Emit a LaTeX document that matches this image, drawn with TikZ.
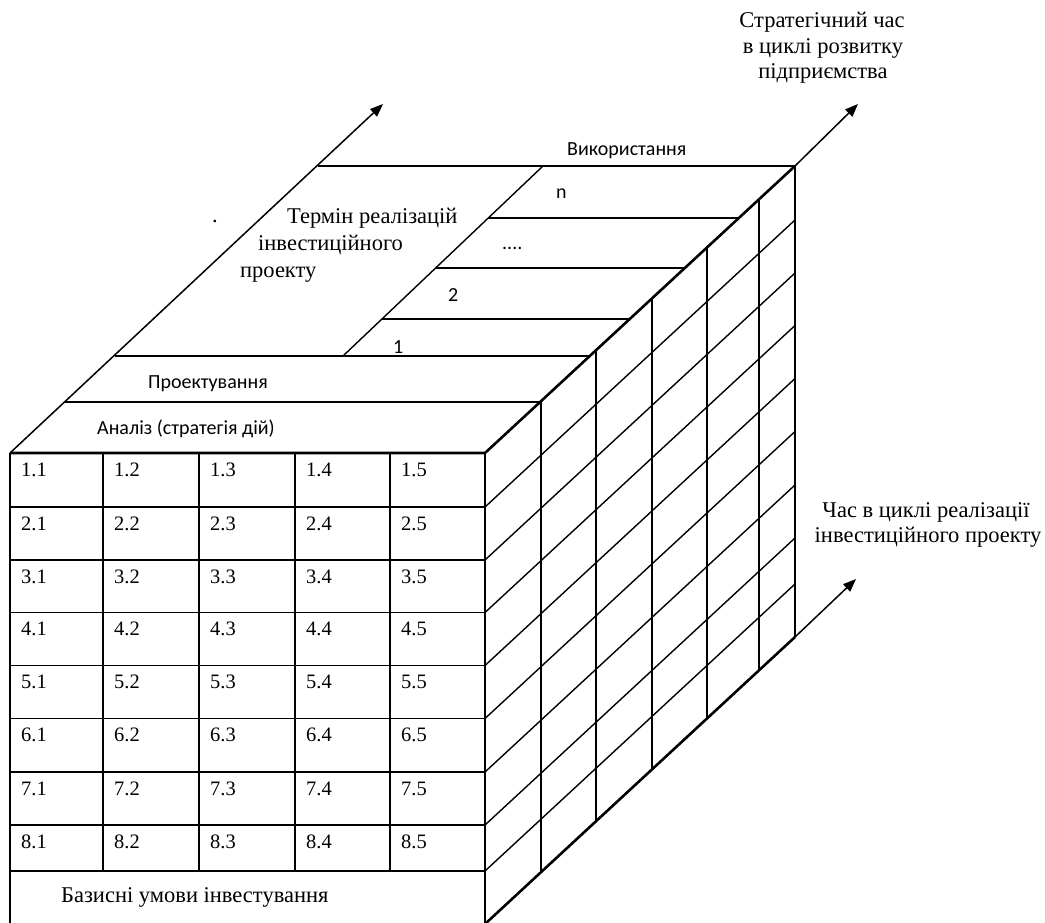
\documentclass[tikz,border=0pt]{standalone}
\usepackage{fontspec}
\setmainfont{Liberation Serif}
\newfontfamily\calibri{Carlito}
\usetikzlibrary{calc,arrows.meta}
\begin{document}
\begin{tikzpicture}[x=1pt,y=-1pt,
  stroke/.style={line width=1.4pt},
  boldedge/.style={line width=2.6pt},
  midedge/.style={line width=1.9pt},
  axis/.style={line width=1.5pt,-{Triangle[length=13pt,width=10pt]}},
  serif/.style={font=\fontsize{22.5}{28}\selectfont, inner sep=0pt},
  sans/.style={font=\calibri\fontsize{20}{24}\selectfont, inner sep=0pt},
  cell/.style={font=\fontsize{20.5}{24}\selectfont, anchor=base west, inner sep=0pt}]
\useasboundingbox (0,0) rectangle (1045,922);
\clip (0,0) rectangle (1045,922);
% corners
\coordinate (A) at (10,453);
\coordinate (B) at (485,453);
\coordinate (C) at (795,166);
\coordinate (D) at (318,166);
\coordinate (Ab) at (10,924);
\coordinate (Bb) at (485,924);
\coordinate (Cb) at (795,637);
\coordinate (tipL) at (383,104);
\coordinate (tipR) at (858,104);
\coordinate (tipB) at (856,579);
% front face grid
\foreach \y in {507,560,612.5,665.5,718.5,772,825,871} {
  \draw[stroke] (10,\y) -- (485,\y);
  \draw[stroke] (485,\y) -- ++(310,-287);
}
\foreach \x in {103,199,295,390} \draw[stroke] (\x,453) -- (\x,871);
\draw[stroke] (A) -- (Ab) -- (Bb);
% right face verticals
\foreach \t in {0.1806,0.358,0.5387,0.716,0.884}
  \draw[stroke] ($(B)!\t!(C)$) -- ($(Bb)!\t!(Cb)$);
% top face
\draw[stroke] (D) -- (C);
\draw[stroke] (65.1,402) -- (540.1,402);
\draw[stroke] (114.8,356) -- (589.8,356);
\coordinate (divB) at (343,356);
\coordinate (divT) at (543,166);
\draw[stroke] (divB) -- (divT);
\draw[stroke] (382,319) -- (629.7,319);
\draw[stroke] (436,268) -- (684.8,268);
\draw[stroke] (488,218) -- (738.8,218);
% arrows
\draw[axis] (A) -- (tipL);
\draw[axis] (C) -- (tipR);
\draw[axis] (Cb) -- (tipB);
% heavier edges
\draw[midedge] (B) -- (Bb);
\draw[midedge] (C) -- (Cb);
\draw[boldedge] (A) -- (B) -- (C);
\draw[boldedge] (Bb) -- (Cb);
% cell texts
\foreach \r/\y in {1/453,2/507,3/560,4/612.5,5/665.5,6/718.5,7/772,8/825} {
  \foreach \c/\x in {1/10,2/103,3/199,4/295,5/390} {
    \node[cell] (c\r\c) at (\x+11,\y+23) {\r.\c};
  }
}
\node[serif, anchor=base west] (base) at (61,902) {Базисні умови інвестування};
% top face labels
\node[sans, anchor=base west] (an) at (97,434) {Аналіз (стратегія дій)};
\node[sans, anchor=base west] (pr) at (148,388) {Проектування};
\node[sans, anchor=base west] (one) at (393,353) {1};
\node[sans, anchor=base west] (two) at (448,301) {2};
\node[sans, anchor=base west] (dots) at (502,249) {....};
\node[sans, anchor=base west] (nn) at (556,198) {n};
\node[sans, anchor=base west] (vyk) at (567,155) {Використання};
\node[serif, anchor=base west] (dot) at (212,222) {.};
\node[serif, anchor=base west] (t1) at (287,223) {Термін реалізацій};
\node[serif, anchor=base west] (t2) at (258,250) {інвестиційного};
\node[serif, anchor=base west] (t3) at (240,277) {проекту};
% axis labels
\node[serif, anchor=base] (s1) at (822,27) {Стратегічний час};
\node[serif, anchor=base] (s2) at (823,53) {в циклі розвитку};
\node[serif, anchor=base] (s3) at (823,78) {підприємства};
\node[serif, anchor=base] (h1) at (926,517) {Час в циклі реалізації};
\node[serif, anchor=base] (h2) at (928,542) {інвестиційного проекту};
\end{tikzpicture}
\end{document}
